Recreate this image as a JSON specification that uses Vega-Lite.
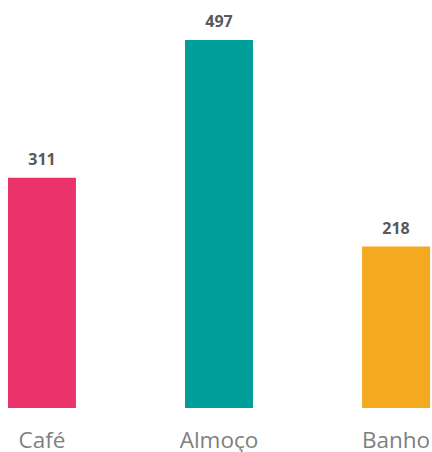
{
  "$schema": "https://vega.github.io/schema/vega-lite/v6.json",
  "autosize": {"type": "none"},
  "padding": {"left": 0, "top": 0, "right": 0, "bottom": 44},
  "width": 438,
  "height": 408,
  "background": "white",
  "data": {"values": [
    {"cat": "Café", "value": 311},
    {"cat": "Almoço", "value": 497},
    {"cat": "Banho", "value": 218}
  ]},
  "encoding": {
    "x": {"field": "cat", "type": "nominal", "sort": null,
      "scale": {"paddingInner": 0.616, "paddingOuter": 0.045},
      "axis": {"title": null, "domain": false, "ticks": false, "tickSize": 0, "labelPadding": 39, "labelBaseline": "alphabetic", "labelAngle": 0, "labelFont": "Open Sans", "labelFontSize": 22.5, "labelColor": "#7f7f7f", "labelOverlap": false, "labelBound": false}},
    "y": {"field": "value", "type": "quantitative", "scale": {"domain": [0, 551], "nice": false}, "axis": null}
  },
  "layer": [
    {"mark": {"type": "bar"},
     "encoding": {"color": {"field": "cat", "type": "nominal", "sort": null, "legend": null,
       "scale": {"domain": ["Café", "Almoço", "Banho"], "range": ["#E9336A", "#009E99", "#F5A91F"]}}}},
    {"mark": {"type": "text", "dy": -13, "baseline": "alphabetic", "font": "Open Sans", "fontWeight": "bold", "fontSize": 16, "color": "#595959"},
     "encoding": {"text": {"field": "value", "type": "quantitative"}}}
  ],
  "config": {"view": {"stroke": null}}
}
